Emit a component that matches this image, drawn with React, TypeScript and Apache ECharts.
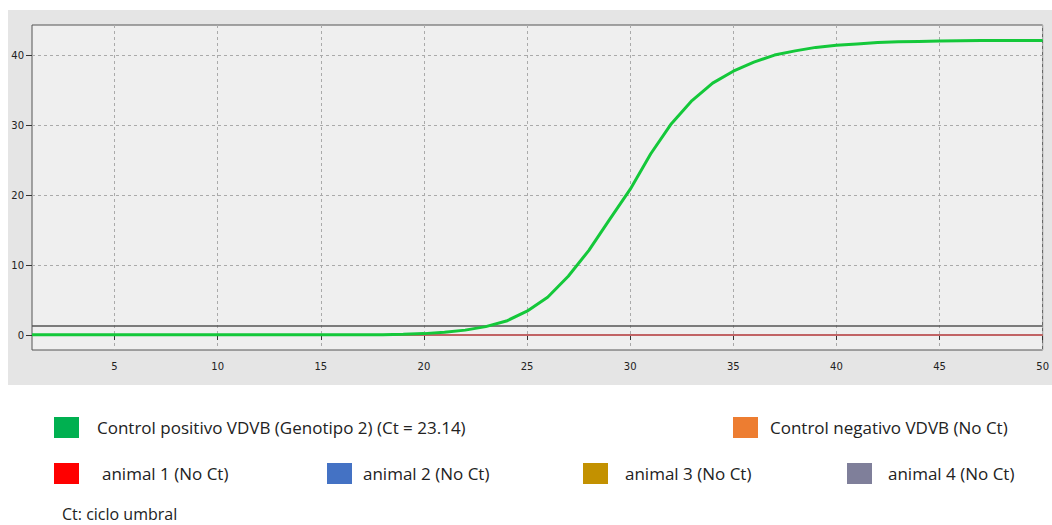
import React, { useEffect, useRef } from "react";
import * as echarts from "echarts";

const cycles = [
  1, 2, 3, 4, 5, 6, 7, 8, 9, 10, 11, 12, 13, 14, 15, 16, 17, 18, 19, 20, 21, 22, 23, 24, 25,
  26, 27, 28, 29, 30, 31, 32, 33, 34, 35, 36, 37, 38, 39, 40, 41, 42, 43, 44, 45, 46, 47, 48, 49, 50,
];

const positiveControl = [
  0.05, 0.05, 0.05, 0.05, 0.05, 0.05, 0.05, 0.05, 0.05, 0.05, 0.05, 0.05, 0.05, 0.05, 0.05, 0.05,
  0.05, 0.05, 0.1, 0.2, 0.4, 0.7, 1.2, 2.0, 3.4, 5.4, 8.4, 12.1, 16.5, 20.8, 25.9, 30.2, 33.5, 36.0,
  37.7, 39.0, 40.0, 40.6, 41.1, 41.4, 41.6, 41.8, 41.9, 41.95, 42.0, 42.05, 42.1, 42.1, 42.1, 42.1,
];

const noCt = [
  0, 0, 0, 0, 0, 0, 0, 0, 0, 0, 0, 0, 0, 0, 0, 0, 0, 0, 0, 0, 0, 0, 0, 0, 0,
  0, 0, 0, 0, 0, 0, 0, 0, 0, 0, 0, 0, 0, 0, 0, 0, 0, 0, 0, 0, 0, 0, 0, 0, 0,
];

const threshold = 1.36;
const xTicks = [5, 10, 15, 20, 25, 30, 35, 40, 45, 50];
const yTicks = [0, 10, 20, 30, 40];

const seriesNames = [
  "Control positivo VDVB (Genotipo 2) (Ct = 23.14)",
  "Control negativo VDVB (No Ct)",
  "animal 1 (No Ct)",
  "animal 2 (No Ct)",
  "animal 3 (No Ct)",
  "animal 4 (No Ct)",
];
const legendColors = ["#00b050", "#ed7d31", "#ff0000", "#4472c4", "#c39100", "#7f7f9a"];
const lineColors = ["#14c83a", "#ed7d31", "#d45a5e", "#4472c4", "#c39100", "#7f7f9a"];
const footnote = "Ct: ciclo umbral";

const legendPos = [
  [54, 417, 97],
  [733, 417, 770],
  [54, 463, 102],
  [327, 463, 363],
  [583, 463, 625],
  [847, 463, 888],
];

export default function App() {
  const ref = useRef<HTMLDivElement>(null);
  useEffect(() => {
    if (!ref.current) return;
    const chart = echarts.init(ref.current, null, { renderer: "svg" });
    const pairs = (vals: number[]) => cycles.map((c, i) => [c, vals[i]]);

    const drawOrder = [1, 3, 4, 5, 2, 0];
    const series: any[] = drawOrder.map((idx) => ({
      type: "line",
      name: seriesNames[idx],
      data: pairs(idx === 0 ? positiveControl : noCt),
      showSymbol: false,
      symbol: "none",
      lineStyle: { color: lineColors[idx], width: idx === 0 ? 3 : 1.5 },
      z: idx === 0 ? 5 : 3,
      silent: true,
    }));
    series.push({
      type: "line",
      name: "threshold",
      data: [],
      markLine: {
        silent: true,
        symbol: "none",
        label: { show: false },
        lineStyle: { color: "#555555", width: 1.5, type: "solid" },
        data: [{ yAxis: threshold }],
      },
      z: 4,
    });

    const graphic: any[] = [
      {
        type: "rect",
        shape: { x: 8, y: 10, width: 1044, height: 375 },
        style: { fill: "#e5e5e5" },
        z: -10,
        silent: true,
      },
    ];
    seriesNames.forEach((name, i) => {
      const [sx, sy, tx] = legendPos[i];
      graphic.push({
        type: "rect",
        shape: { x: sx, y: sy, width: 25, height: 21 },
        style: { fill: legendColors[i] },
      });
      graphic.push({
        type: "text",
        x: tx,
        y: sy + 10,
        style: {
          text: name,
          fill: "#222",
          font: "17px 'Open Sans'",
          verticalAlign: "middle",
        },
      });
    });
    graphic.push({
      type: "text",
      x: 62,
      y: 514,
      style: { text: footnote, fill: "#222", font: "16px 'Open Sans'", verticalAlign: "middle" },
    });

    chart.setOption({
      animation: false,
      backgroundColor: "#ffffff",
      grid: {
        left: 32,
        top: 25,
        width: 1017,
        height: 325,
        show: true,
        backgroundColor: "#efefef",
        borderColor: "#555555",
        borderWidth: 1,
      },
      xAxis: {
        type: "value",
        min: 1,
        max: 50,
        axisLine: { show: false },
        axisTick: { show: true, customValues: xTicks, length: 5, lineStyle: { color: "#333" } },
        axisLabel: {
          customValues: xTicks,
          color: "#222",
          fontSize: 10,
          fontFamily: "DejaVu Sans",
          margin: 11,
        },
        splitLine: { show: true, lineStyle: { color: "#aaaaaa", type: [3, 3], width: 1 } },
      },
      yAxis: {
        type: "value",
        min: -2.14,
        max: 44.3,
        axisLine: { show: false },
        axisTick: { show: true, customValues: yTicks, length: 6, lineStyle: { color: "#333" } },
        axisLabel: {
          customValues: yTicks,
          color: "#222",
          fontSize: 10,
          fontFamily: "DejaVu Sans",
          margin: 8,
        },
        splitLine: { show: true, lineStyle: { color: "#aaaaaa", type: [3, 3], width: 1 } },
      },
      series,
      graphic,
    });
    return () => chart.dispose();
  }, []);
  return (
    <div
      ref={ref}
      style={{ position: "fixed", left: 0, top: 0, width: 1052, height: 525 }}
    />
  );
}
